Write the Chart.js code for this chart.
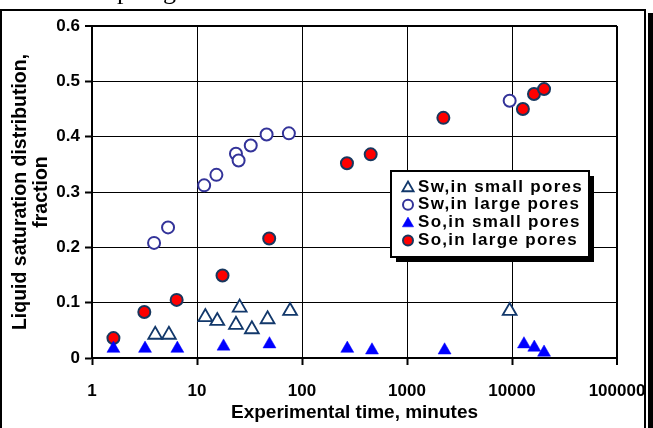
<!DOCTYPE html>
<html>
<head>
<meta charset="utf-8">
<script src="https://cdn.jsdelivr.net/npm/chart.js@4.4.0/dist/chart.umd.min.js"></script>
<style>
  body { margin: 0; background: #fff; }
  #wrap { width: 653px; height: 428px; }
</style>
</head>
<body>
<div id="wrap"><canvas id="SaturationVsTime" width="653" height="428"></canvas></div>
<script>
// Liquid saturation in small / large pores vs experimental time
var xTicks = [1, 10, 100, 1000, 10000, 100000];
var yTicks = [0, 0.1, 0.2, 0.3, 0.4, 0.5, 0.6];

var seriesLabels = ["Sw,in small pores", "Sw,in large pores", "So,in small pores", "So,in large pores"];

// Sw, small pores
var swSmallTime = [4.0, 5.4, 12, 15.6, 23.5, 25.5, 33.3, 47, 77, 9500];
var swSmallSat  = [0.042, 0.042, 0.074, 0.067, 0.060, 0.091, 0.052, 0.070, 0.085, 0.085];

// Sw, large pores
var swLargeTime = [3.9, 5.3, 11.7, 15.3, 23.5, 24.9, 32.5, 46, 75, 9500];
var swLargeSat  = [0.208, 0.236, 0.312, 0.331, 0.369, 0.357, 0.384, 0.404, 0.406, 0.465];

// So, small pores
var soSmallTime = [1.6, 3.2, 6.5, 17.9, 49, 270, 464, 2280, 13000, 16300, 20200];
var soSmallSat  = [0.017, 0.017, 0.017, 0.021, 0.025, 0.017, 0.014, 0.014, 0.025, 0.019, 0.010];

// So, large pores
var soLargeTime = [1.6, 3.15, 6.4, 17.5, 48.7, 268, 451, 2220, 12700, 16200, 20200];
var soLargeSat  = [0.036, 0.083, 0.105, 0.149, 0.216, 0.352, 0.368, 0.434, 0.450, 0.477, 0.486];

function pairs(t, s) {
  return t.map(function(v, i) { return {x: v, y: s[i]}; });
}

var FONT = '"Liberation Sans", Arial, sans-serif';
Chart.defaults.font.family = FONT;
Chart.defaults.font.weight = "bold";
Chart.defaults.color = "#000";

// outer frame, stray text above and the boxed legend
var framePlugin = {
  id: "frame",
  afterDraw: function(chart) {
    var ctx = chart.ctx;
    ctx.save();
    ctx.fillStyle = "#000";
    ctx.font = "26px 'Liberation Serif', 'Times New Roman', serif";
    ctx.textBaseline = "alphabetic";
    ctx.fillText("p", 117, -1);
    ctx.fillText("g", 163, -1);

    ctx.strokeStyle = "#000";
    ctx.lineWidth = 2;
    ctx.beginPath();
    ctx.moveTo(1, 440);
    ctx.lineTo(1, 10);
    ctx.lineTo(645, 10);
    ctx.lineTo(645, 440);
    ctx.stroke();
    ctx.fillRect(648, 13, 5, 420);

    // legend
    var lx = 391, ly = 171, lw = 198, lh = 86;
    ctx.fillRect(lx + 5, ly + 5, lw, lh);
    ctx.fillStyle = "#fff";
    ctx.fillRect(lx, ly, lw, lh);
    ctx.lineWidth = 2;
    ctx.strokeRect(lx, ly, lw, lh);

    ctx.font = "bold 17px " + FONT;
    ctx.letterSpacing = "1.3px";
    ctx.textBaseline = "middle";
    ctx.textAlign = "left";
    chart.data.datasets.forEach(function(ds, i) {
      var y = 187 + i * 17.8;
      ctx.fillStyle = ds.pointBackgroundColor;
      ctx.strokeStyle = ds.pointBorderColor;
      ctx.lineWidth = ds.pointBorderWidth;
      Chart.helpers.drawPoint(ctx, {
        pointStyle: ds.pointStyle,
        rotation: 0,
        radius: ds.pointStyle === "triangle" ? 6.5 : 5,
        borderWidth: ds.pointBorderWidth
      }, 408, ds.pointStyle === "triangle" ? y + 1 : y);
      ctx.fillStyle = "#000";
      ctx.fillText(ds.label, 418, y);
    });
    ctx.restore();
  }
};

var ctx = document.getElementById("SaturationVsTime").getContext("2d");
var myChart = new Chart(ctx, {
  type: "scatter",
  data: {
    datasets: [
      {
        label: seriesLabels[0],
        data: pairs(swSmallTime, swSmallSat),
        pointStyle: "triangle",
        pointRadius: 8,
        pointBackgroundColor: "#fff",
        pointBorderColor: "#12386b",
        pointBorderWidth: 1.8,
      },
      {
        label: seriesLabels[1],
        data: pairs(swLargeTime, swLargeSat),
        pointStyle: "circle",
        pointRadius: 6,
        pointBackgroundColor: "#fff",
        pointBorderColor: "#333399",
        pointBorderWidth: 2,
      },
      {
        label: seriesLabels[2],
        data: pairs(soSmallTime, soSmallSat),
        pointStyle: "triangle",
        pointRadius: 7.5,
        pointBackgroundColor: "#0000ff",
        pointBorderColor: "#0000ff",
        pointBorderWidth: 0.5,
      },
      {
        label: seriesLabels[3],
        data: pairs(soLargeTime, soLargeSat),
        pointStyle: "circle",
        pointRadius: 6,
        pointBackgroundColor: "#ff0000",
        pointBorderColor: "#17375e",
        pointBorderWidth: 2,
      },
    ],
  },
  options: {
    responsive: false,
    animation: false,
    events: [],
    layout: { padding: { top: 26, right: 36, bottom: 0, left: 0 } },
    plugins: {
      legend: { display: false },
      tooltip: { enabled: false },
    },
    scales: {
      x: {
        type: "logarithmic",
        min: 1,
        max: 100000,
        afterBuildTicks: function(scale) {
          scale.ticks = xTicks.map(function(v) { return {value: v}; });
        },
        afterFit: function(scale) {
          scale.height = 70;
          scale.paddingLeft = 0;
          scale.paddingRight = 0;
        },
        ticks: {
          autoSkip: false,
          maxRotation: 0,
          padding: 16,
          font: { size: 17, weight: "bold" },
          callback: function(v) { return String(v); },
        },
        grid: {
          color: "#000",
          lineWidth: function(c) { return c.tick && c.tick.value === 100000 ? 2 : 1; },
          tickLength: 7,
          tickWidth: 2,
          tickColor: "#000",
        },
        border: { color: "#000", width: 2 },
        title: {
          display: true,
          text: "Experimental time, minutes",
          font: { size: 19, weight: "bold" },
          padding: { top: 0, bottom: 4 },
        },
      },
      y: {
        type: "linear",
        min: 0,
        max: 0.6,
        afterBuildTicks: function(scale) {
          scale.ticks = yTicks.map(function(v) { return {value: v}; });
        },
        afterFit: function(scale) { scale.width = 92; },
        ticks: {
          padding: 5,
          font: { size: 17, weight: "bold" },
          callback: function(v) { return String(Math.round(v * 10) / 10); },
        },
        grid: {
          color: "#000",
          lineWidth: function(c) { return c.tick && c.tick.value === 0.6 ? 2 : 1; },
          tickLength: 7,
          tickWidth: 2,
          tickColor: "#000",
        },
        border: { color: "#000", width: 2 },
        title: {
          display: true,
          text: ["Liquid saturation distribution,", "fraction"],
          font: { size: 19.5, weight: "bold", lineHeight: 1.1 },
          padding: { top: 9.5, bottom: 0 },
        },
      },
    },
  },
  plugins: [framePlugin],
});
</script>
</body>
</html>
